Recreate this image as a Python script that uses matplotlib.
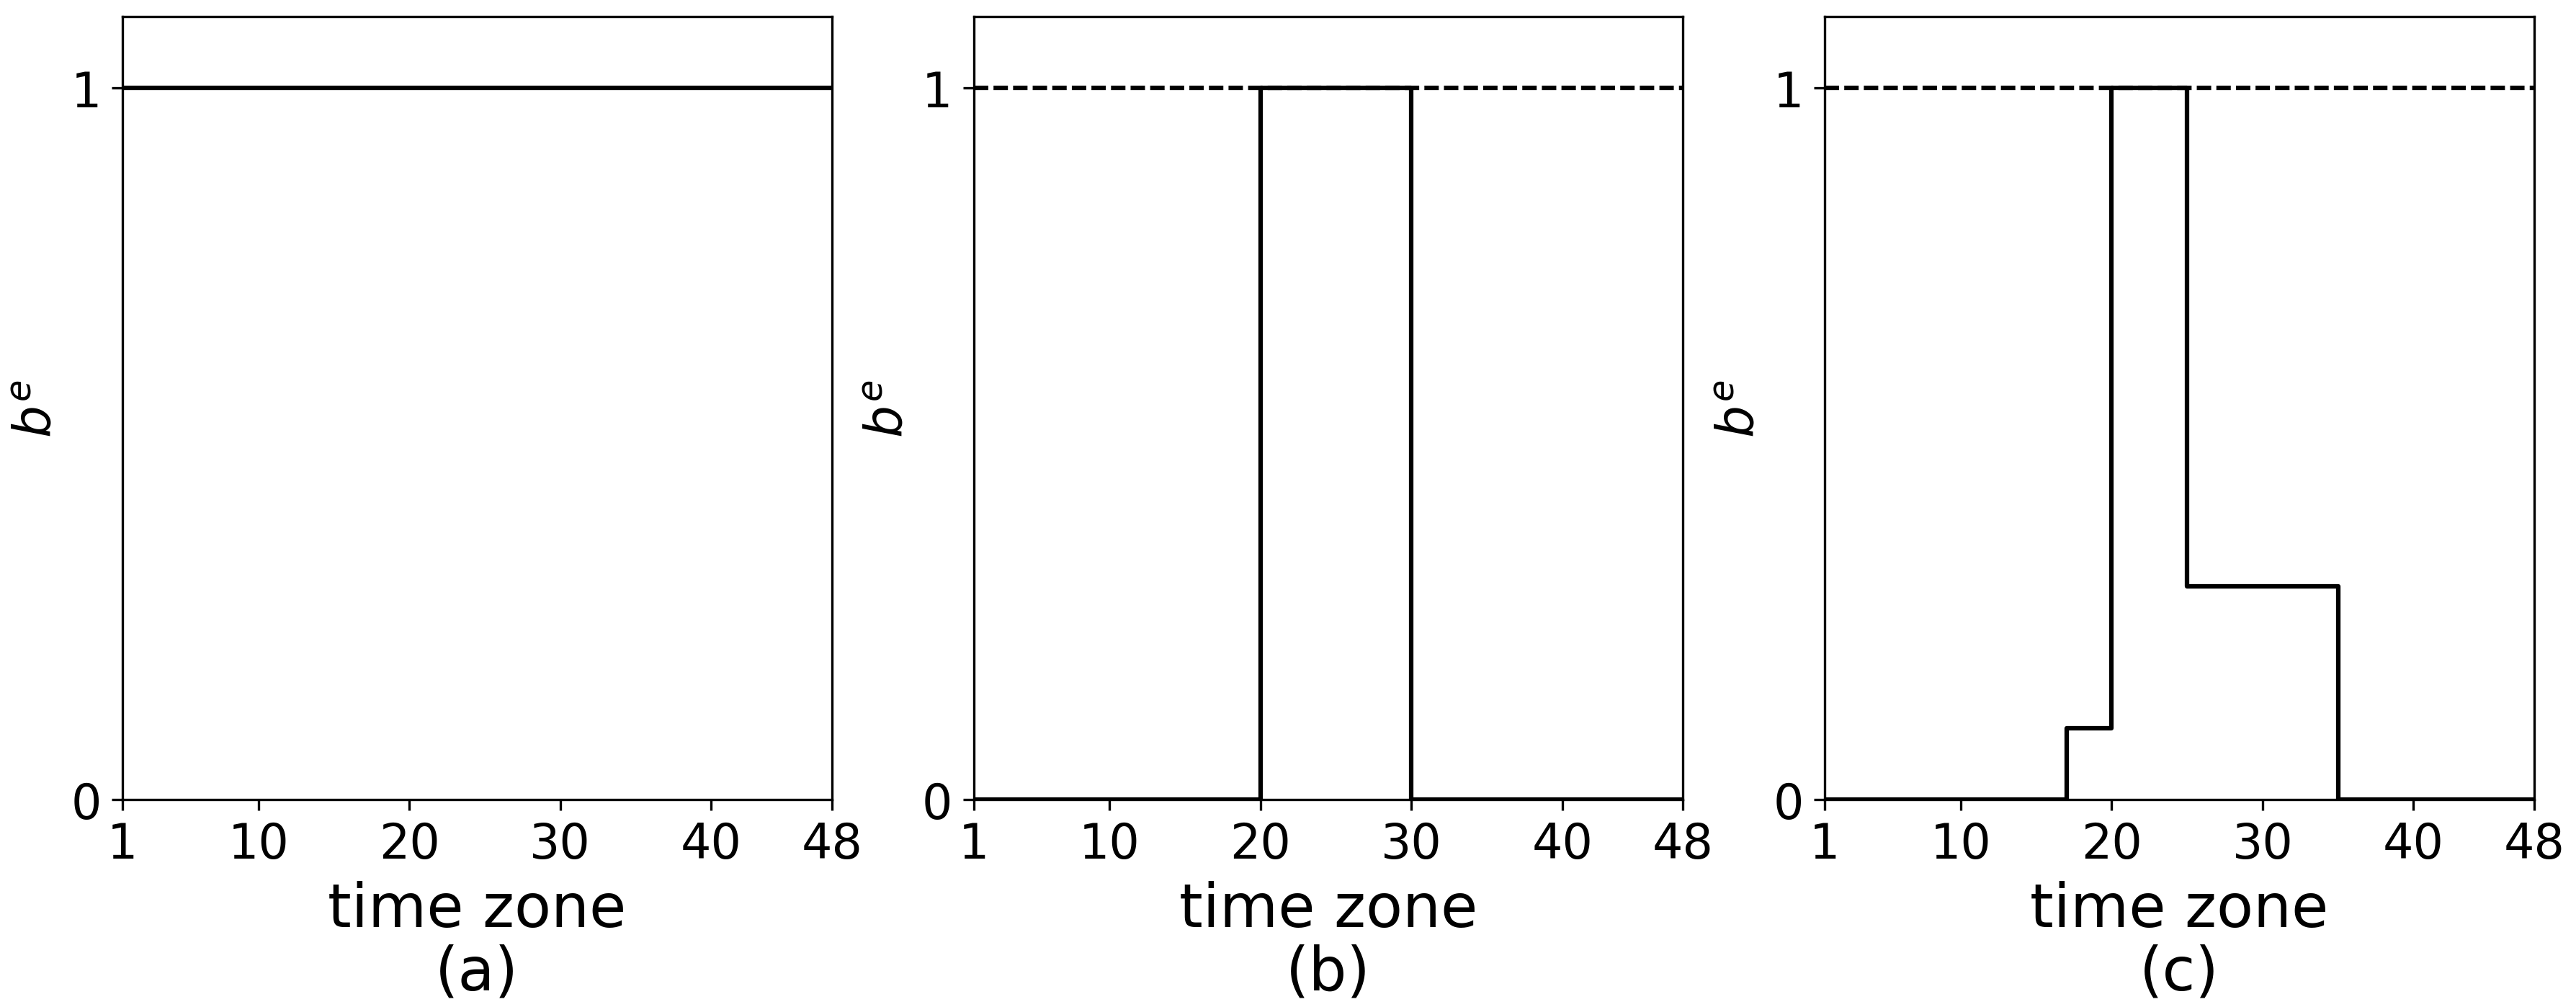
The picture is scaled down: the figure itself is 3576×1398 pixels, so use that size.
import numpy as np
import matplotlib
matplotlib.use('Agg')
import matplotlib.pyplot as plt

# time zones 1..48 and the b^e value in each zone
zones = np.arange(1, 49)
be_a = np.ones(48)
be_b = np.zeros(48)
be_b[19:29] = 1.0          # zones 20-29
be_c = np.zeros(48)
be_c[16:19] = 0.1          # zones 17-19
be_c[19:24] = 1.0          # zones 20-24
be_c[24:34] = 0.3          # zones 25-34
panels = ['(a)', '(b)', '(c)']
xticks = [1, 10, 20, 30, 40, 48]

fig, axes = plt.subplots(1, 3, figsize=(11.92, 4.663), dpi=300)
fig.subplots_adjust(left=0.04754, right=0.98378, top=0.98284, bottom=0.20586, wspace=0.2)

for ax, be, lab in zip(axes, [be_a, be_b, be_c], panels):
    x = np.append(zones, 48)
    y = np.append(be, be[-1])
    if lab != '(a)':
        ax.axhline(1, color='k', linestyle=(0, (3.2, 1.15)), linewidth=1.5)
    ax.step(x, y, where='post', color='k', linewidth=1.5)
    ax.set_xlim(1, 48)
    ax.set_ylim(0, 1.1)
    ax.set_xticks(xticks)
    ax.set_yticks([0, 1])
    ax.tick_params(labelsize=16)
    ax.set_xlabel('time zone\n' + lab, fontsize=20, linespacing=1.1)
    ax.set_ylabel('$b^e$', fontsize=17, labelpad=3)

fig.savefig('out.png', dpi=300)
